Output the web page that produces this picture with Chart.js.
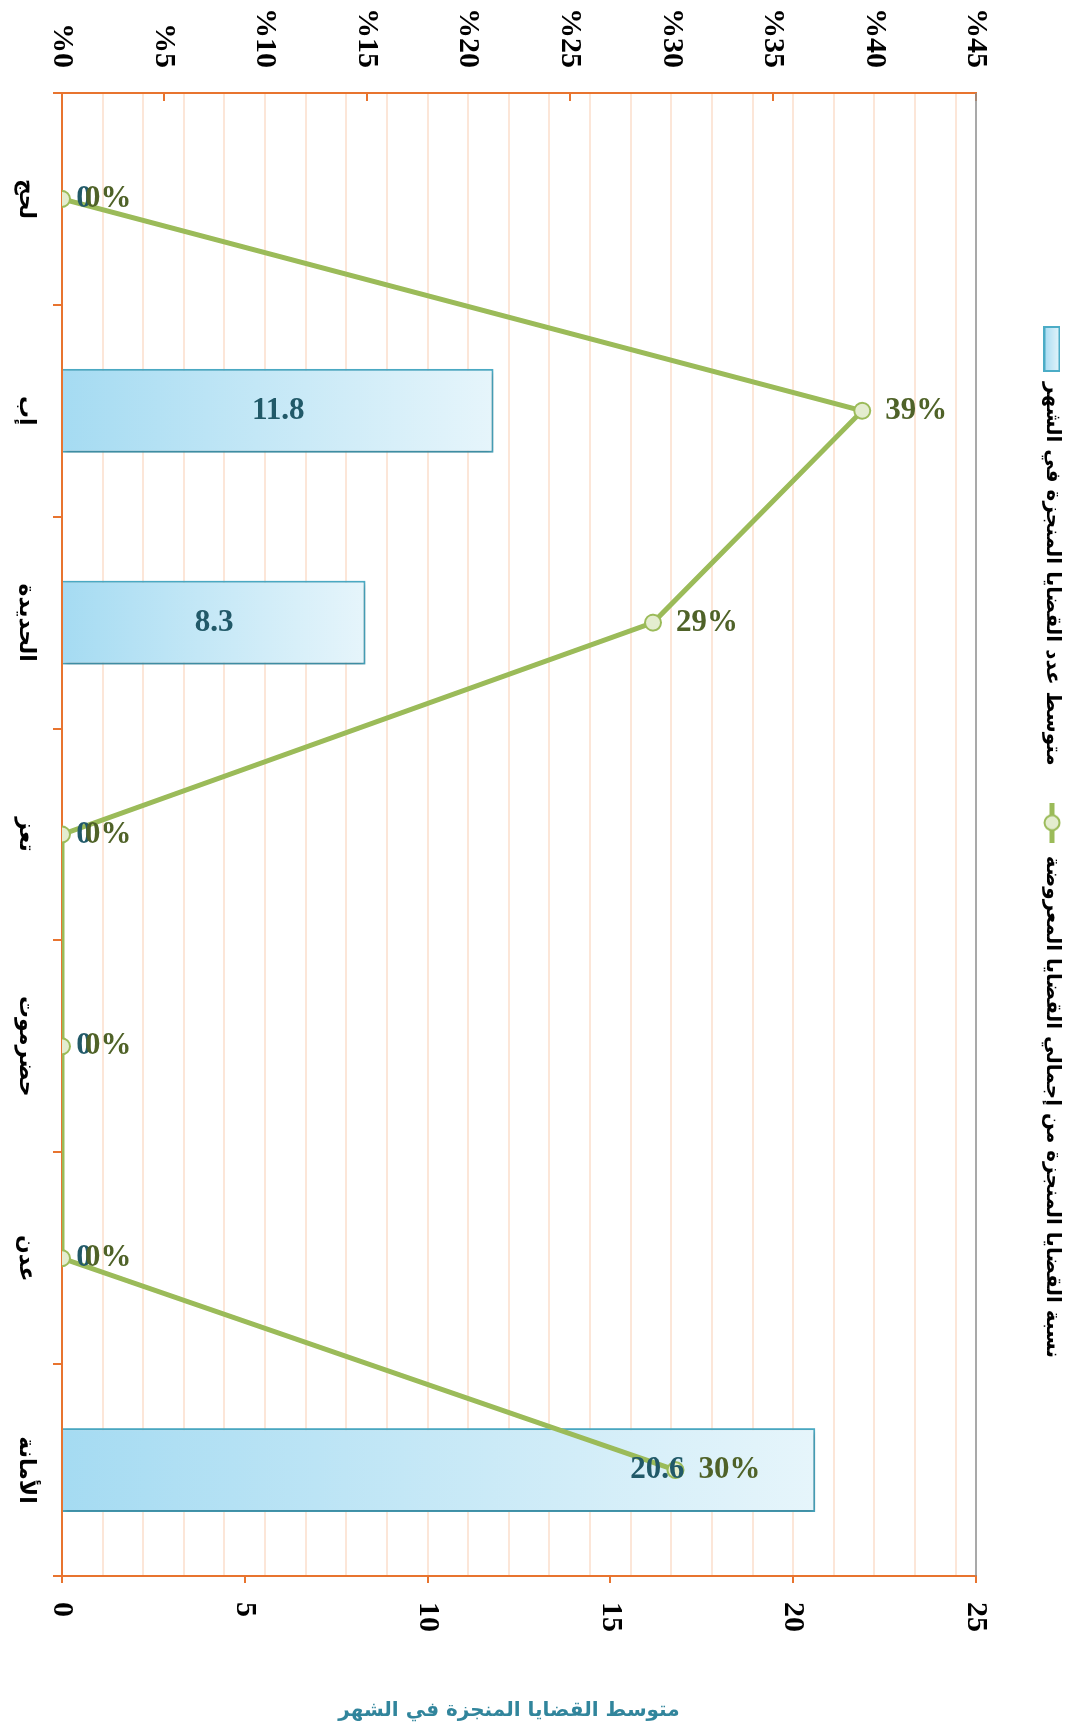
<!DOCTYPE html>
<html lang="ar">
<head>
<meta charset="utf-8">
<title>متوسط القضايا المنجزة في الشهر</title>
<script src="https://cdn.jsdelivr.net/npm/chart.js@4.4.1/dist/chart.umd.min.js"></script>
<style>
  html, body { margin: 0; padding: 0; background: #fff; overflow: hidden; }
  body { width: 1073px; height: 1726px; position: relative; }
  /* the chart is drawn lying on its side, then turned a quarter clockwise */
  #turn { position: absolute; left: 0; top: 0; width: 1726px; height: 1073px;
          transform-origin: 0 0; transform: translate(1073px, 0) rotate(90deg); }
  #axisTitle { position: absolute; top: 1697px; left: 509px; transform: translateX(-50%);
               white-space: nowrap; direction: rtl; color: #31859C;
               font: bold 20px "DejaVu Sans", sans-serif; }
</style>
</head>
<body>
<div id="turn"><canvas id="myChart" width="1726" height="1073"></canvas></div>
<div id="axisTitle">متوسط القضايا المنجزة في الشهر</div>
<script>
// Values
const regions = ['لحج', 'إب', 'الحديدة', 'تعز', 'حضرموت', 'عدن', 'الأمانة'];
const avgMonthly = [0, 11.8, 8.3, 0, 0, 0, 20.6];
const sharePct = [0, 39.4, 29.1, 0, 0, 0, 30.2];
const seriesNames = [
    'متوسط عدد القضايا المنجزة في الشهر',
    'نسبة القضايا المنجزة من إجمالي القضايا المعروضة'
];
const countTicks = [0, 5, 10, 15, 20, 25];
const pctTicks = [0, 5, 10, 15, 20, 25, 30, 35, 40, 45];

const orange = '#E8742F';
const peach = '#FCE6D8';
const numFont = { family: '"Liberation Serif", "Times New Roman", serif', weight: 'bold', size: 30 };
const arFont = { family: '"DejaVu Sans", sans-serif', weight: 'bold', size: 22 };
const legendFont = { family: '"DejaVu Sans", sans-serif', weight: 'bold', size: 20 };

// gradient running from each bar's base to its end
function barFill(c) {
    const chart = c.chart;
    if (!chart.chartArea || c.type !== 'data') return '#C4E7F6';
    const s = chart.scales.yCount;
    const y0 = s.getPixelForValue(0);
    const y1 = s.getPixelForValue(c.raw);
    if (Math.abs(y0 - y1) < 1) return '#A8DDF3';
    const g = chart.ctx.createLinearGradient(0, y0, 0, y1);
    g.addColorStop(0, '#A5DBF2');
    g.addColorStop(0.45, '#C3E7F6');
    g.addColorStop(1, '#E6F5FB');
    return g;
}

// legend swatches
function barSwatch() {
    const c = document.createElement('canvas');
    c.width = 46; c.height = 17;
    const g = c.getContext('2d');
    const gr = g.createLinearGradient(0, 17, 0, 0);
    gr.addColorStop(0, '#A5DBF2');
    gr.addColorStop(1, '#E6F5FB');
    g.fillStyle = gr;
    g.fillRect(1, 1, 44, 15);
    g.strokeStyle = '#4BACC6';
    g.lineWidth = 2;
    g.strokeRect(1, 1, 44, 15);
    return c;
}
function lineSwatch() {
    const c = document.createElement('canvas');
    c.width = 40; c.height = 20;
    const g = c.getContext('2d');
    g.strokeStyle = '#9BBB59';
    g.lineWidth = 5;
    g.beginPath(); g.moveTo(0, 10); g.lineTo(40, 10); g.stroke();
    g.beginPath(); g.arc(20, 10, 7.5, 0, Math.PI * 2);
    g.fillStyle = '#E4EDCF'; g.fill();
    g.lineWidth = 2; g.stroke();
    return c;
}
const swatches = [barSwatch(), lineSwatch()];

// legend: room below it, and its first item moved along
const legendPlace = {
    id: 'legendPlace',
    beforeInit(chart) {
        const fit = chart.legend.fit;
        chart.legend.fit = function () {
            fit.call(this);
            this.height = 120;
        };
    },
    afterLayout(chart) {
        chart.legend.left = 292;
    }
};

// grey plot edge on the far side
const plotEdge = {
    id: 'plotEdge',
    beforeDatasetsDraw(chart) {
        const { ctx, chartArea: a } = chart;
        ctx.save();
        ctx.strokeStyle = '#8C8C8C';
        ctx.lineWidth = 1.5;
        ctx.beginPath();
        ctx.moveTo(a.left, a.top);
        ctx.lineTo(a.right, a.top);
        ctx.stroke();
        ctx.restore();
    }
};

// soft shadow under the bars
const barShadow = {
    id: 'barShadow',
    beforeDatasetDraw(chart, args) {
        if (args.index !== 0) return;
        const ctx = chart.ctx;
        ctx.save();
        ctx.shadowColor = 'rgba(0,0,0,0.28)';
        ctx.shadowBlur = 5;
        ctx.shadowOffsetX = 2;
        ctx.shadowOffsetY = -1;
    },
    afterDatasetDraw(chart, args) {
        if (args.index === 0) chart.ctx.restore();
    }
};

// value labels, written upright in the turned picture
const valueLabels = {
    id: 'valueLabels',
    afterDatasetsDraw(chart) {
        const ctx = chart.ctx;
        const bars = chart.getDatasetMeta(0).data;
        const pts = chart.getDatasetMeta(1).data;
        ctx.save();
        ctx.font = 'bold 31px "Liberation Serif", "Times New Roman", serif';
        ctx.textBaseline = 'middle';
        bars.forEach((b, i) => {
            const v = avgMonthly[i];
            const txt = v === 0 ? '0' : v.toFixed(1);
            const p = pts[i];
            let y = (b.y + b.base) / 2;
            let align = 'center';
            if (p.y < b.base && p.y > b.y) {
                y = p.y - 9;
                align = 'right';
            } else if (b.base - b.y < 44) {
                y = b.base - 22;
            }
            ctx.save();
            ctx.translate(b.x, y);
            ctx.rotate(-Math.PI / 2);
            ctx.textAlign = align;
            ctx.fillStyle = '#215968';
            ctx.fillText(txt, 0, 0);
            ctx.restore();
        });
        pts.forEach((p, i) => {
            ctx.save();
            ctx.translate(p.x, p.y - 23);
            ctx.rotate(-Math.PI / 2);
            ctx.textAlign = 'left';
            ctx.fillStyle = '#4F6228';
            ctx.fillText(Math.round(sharePct[i]) + '%', 0, 0);
            ctx.restore();
        });
        ctx.restore();
    }
};

const ctx = document.getElementById('myChart').getContext('2d');
new Chart(ctx, {
    type: 'bar',
    data: {
        labels: regions,
        datasets: [
            {
                type: 'bar',
                label: seriesNames[0],
                data: avgMonthly,
                yAxisID: 'yCount',
                backgroundColor: barFill,
                borderColor: '#4BACC6',
                borderWidth: 2,
                categoryPercentage: 0.8,
                barPercentage: 0.495,
                order: 2
            },
            {
                type: 'line',
                label: seriesNames[1],
                data: sharePct,
                yAxisID: 'yPct',
                borderColor: '#9BBB59',
                borderWidth: 5,
                pointRadius: 8,
                pointBorderWidth: 2,
                pointBackgroundColor: '#E4EDCF',
                pointBorderColor: '#9BBB59',
                tension: 0,
                order: 1
            }
        ]
    },
    options: {
        responsive: false,
        animation: false,
        layout: { padding: { top: -23, right: 0, left: 0, bottom: 0 } },
        plugins: {
            tooltip: { enabled: false },
            legend: {
                position: 'top',
                align: 'start',
                labels: {
                    usePointStyle: true,
                    pointStyleWidth: 46,
                    padding: 34,
                    color: '#000',
                    font: legendFont,
                    generateLabels: chart => chart.data.datasets.map((ds, i) => ({
                        text: ds.label,
                        pointStyle: swatches[i],
                        fillStyle: 'transparent',
                        strokeStyle: 'transparent',
                        lineWidth: 0,
                        hidden: false,
                        datasetIndex: i,
                        fontColor: '#000'
                    }))
                }
            }
        },
        scales: {
            x: {
                position: 'bottom',
                offset: true,
                grid: { offset: true, drawOnChartArea: false, color: orange, tickColor: orange, tickLength: 9, lineWidth: 2 },
                border: { color: orange, width: 2 },
                ticks: { font: arFont, color: '#000', padding: 14, minRotation: 0, maxRotation: 0, autoSkip: false },
                afterFit: s => { s.height = 62; }
            },
            yPct: {
                position: 'left',
                min: 0,
                max: 45,
                afterBuildTicks: s => { s.ticks = pctTicks.map(v => ({ value: v })); },
                grid: { drawOnChartArea: false, color: orange, tickColor: orange, tickLength: -8, lineWidth: 2 },
                border: { color: orange, width: 2 },
                ticks: { callback: v => '%' + v, font: numFont, color: '#000', padding: 33 },
                afterFit: s => { s.width = 93; }
            },
            yGrid: {
                position: 'left',
                min: 0,
                max: 45,
                ticks: { display: false, stepSize: 2 },
                grid: {
                    drawTicks: false,
                    lineWidth: 2,
                    color: c => (c.tick && c.tick.value > 0 && c.tick.value < 45) ? peach : 'rgba(0,0,0,0)'
                },
                border: { display: false },
                afterFit: s => { s.width = 0; }
            },
            yCount: {
                position: 'right',
                min: 0,
                max: 25,
                afterBuildTicks: s => { s.ticks = countTicks.map(v => ({ value: v })); },
                grid: { drawOnChartArea: false, color: orange, tickColor: orange, tickLength: 7, lineWidth: 2 },
                border: { color: orange, width: 2 },
                ticks: { font: numFont, color: '#000', padding: 19 },
                afterFit: s => { s.width = 150; }
            }
        }
    },
    plugins: [legendPlace, plotEdge, barShadow, valueLabels]
});
</script>
</body>
</html>
